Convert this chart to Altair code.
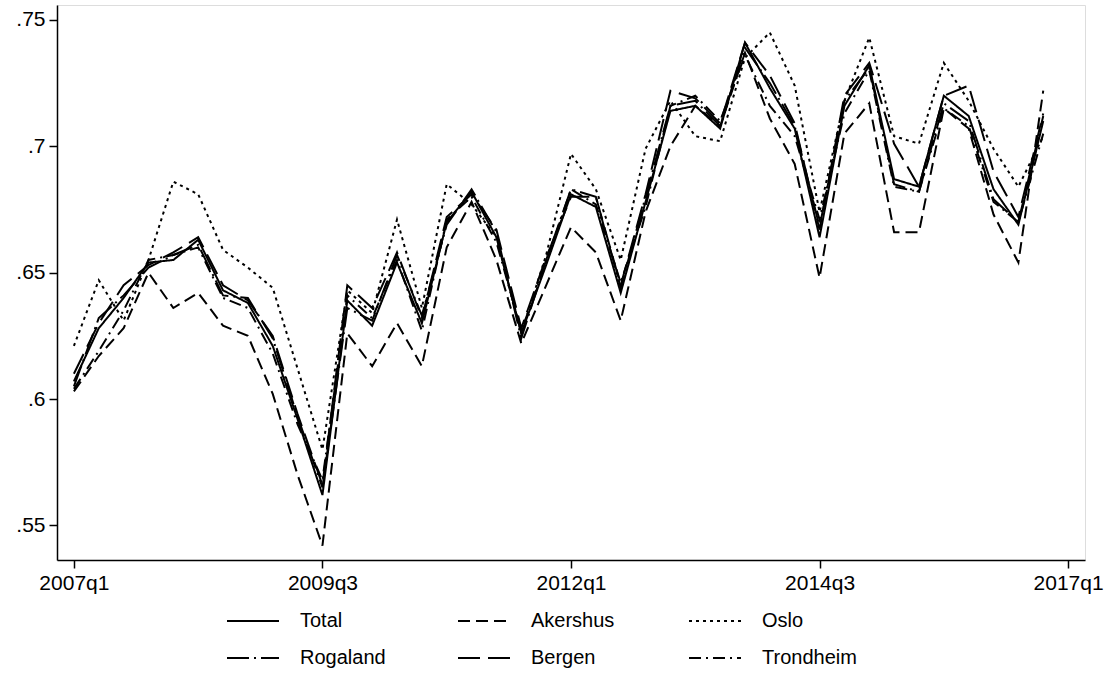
import altair as alt
import pandas as pd

# quarter index: 0 = 2007q1 ... 39 = 2016q4
quarters = list(range(40))

total = [0.607, 0.628, 0.640, 0.654, 0.655, 0.663, 0.643, 0.638, 0.621, 0.592,
         0.562, 0.639, 0.629, 0.654, 0.630, 0.670, 0.682, 0.664, 0.626, 0.653,
         0.681, 0.676, 0.642, 0.678, 0.714, 0.716, 0.707, 0.741, 0.723, 0.707,
         0.664, 0.716, 0.732, 0.687, 0.684, 0.720, 0.712, 0.683, 0.669, 0.710]
akershus = [0.603, 0.617, 0.628, 0.650, 0.636, 0.642, 0.629, 0.625, 0.602, 0.570,
            0.542, 0.626, 0.613, 0.630, 0.613, 0.660, 0.678, 0.655, 0.622, 0.645,
            0.668, 0.658, 0.631, 0.674, 0.700, 0.716, 0.708, 0.737, 0.711, 0.693,
            0.648, 0.705, 0.717, 0.666, 0.666, 0.715, 0.707, 0.673, 0.654, 0.722]
oslo = [0.621, 0.647, 0.631, 0.655, 0.686, 0.681, 0.659, 0.652, 0.644, 0.612,
        0.580, 0.643, 0.634, 0.671, 0.636, 0.685, 0.677, 0.664, 0.626, 0.657,
        0.697, 0.683, 0.655, 0.699, 0.718, 0.704, 0.702, 0.735, 0.745, 0.724,
        0.674, 0.718, 0.743, 0.704, 0.701, 0.733, 0.718, 0.699, 0.684, 0.704]
rogaland = [0.605, 0.632, 0.641, 0.652, 0.657, 0.661, 0.641, 0.640, 0.624, 0.593,
            0.565, 0.636, 0.631, 0.657, 0.633, 0.669, 0.683, 0.666, 0.624, 0.655,
            0.683, 0.680, 0.644, 0.680, 0.716, 0.718, 0.708, 0.739, 0.725, 0.708,
            0.668, 0.718, 0.731, 0.685, 0.682, 0.717, 0.710, 0.679, 0.670, 0.712]
bergen = [0.610, 0.630, 0.645, 0.653, 0.658, 0.664, 0.645, 0.639, 0.625, 0.594,
          0.566, 0.645, 0.636, 0.658, 0.632, 0.672, 0.681, 0.667, 0.628, 0.656,
          0.680, 0.680, 0.645, 0.681, 0.722, 0.719, 0.709, 0.741, 0.728, 0.709,
          0.667, 0.720, 0.733, 0.701, 0.684, 0.720, 0.724, 0.690, 0.672, 0.713]
trondheim = [0.604, 0.619, 0.635, 0.655, 0.657, 0.660, 0.640, 0.636, 0.618, 0.590,
             0.568, 0.641, 0.632, 0.655, 0.627, 0.671, 0.680, 0.662, 0.627, 0.654,
             0.683, 0.677, 0.646, 0.676, 0.716, 0.720, 0.710, 0.736, 0.716, 0.704,
             0.671, 0.713, 0.730, 0.684, 0.682, 0.715, 0.708, 0.678, 0.670, 0.705]

series_names = ["Total", "Akershus", "Oslo", "Rogaland", "Bergen", "Trondheim"]
series_values = [total, akershus, oslo, rogaland, bergen, trondheim]
dash_patterns = [[1, 0], [12, 6], [3, 4], [22, 5, 2, 5], [22, 8], [12, 5, 2, 5]]

x_tick_values = [0, 10, 20, 30, 40]
x_tick_labels = ["2007q1", "2009q3", "2012q1", "2014q3", "2017q1"]
y_tick_values = [0.55, 0.6, 0.65, 0.7, 0.75]

rows = []
for name, vals in zip(series_names, series_values):
    for q, v in zip(quarters, vals):
        rows.append({"q": q, "value": v, "series": name})
df = pd.DataFrame(rows)

x_label_expr = ""
for tv, tl in zip(x_tick_values, x_tick_labels):
    x_label_expr += f"datum.value == {tv} ? '{tl}' : "
x_label_expr += "''"

FONT = "Liberation Sans"

chart = alt.Chart(df).mark_line(strokeWidth=2, color="black", strokeCap="butt").encode(
    x=alt.X("q:Q",
            scale=alt.Scale(domain=[-0.68, 40.68], nice=False, zero=False),
            axis=alt.Axis(values=x_tick_values, labelExpr=x_label_expr, title=None,
                          grid=False, tickSize=8, tickWidth=1.5, domainWidth=1.5,
                          domainColor="black", tickColor="black", labelColor="black",
                          labelFont=FONT, labelFontSize=21, labelPadding=4,
                          labelFlush=False, labelOverlap=False)),
    y=alt.Y("value:Q",
            scale=alt.Scale(domain=[0.5363, 0.7559], nice=False, zero=False),
            axis=alt.Axis(values=y_tick_values,
                          labelExpr="substring(format(datum.value, '.2~f'), 1)",
                          title=None, grid=False, tickSize=8, tickWidth=1.5,
                          domainWidth=1.5, domainColor="black", tickColor="black",
                          labelColor="black", labelFont=FONT, labelFontSize=21,
                          labelPadding=4, labelFlush=False, labelOverlap=False)),
    strokeDash=alt.StrokeDash("series:N",
                              scale=alt.Scale(domain=series_names, range=dash_patterns),
                              legend=alt.Legend(title=None, orient="none",
                                                legendX=169, legendY=589,
                                                columns=3, direction="horizontal",
                                                gridAlign="all", columnPadding=59,
                                                rowPadding=-17, padding=0,
                                                symbolType="stroke", symbolSize=2704,
                                                symbolStrokeWidth=2,
                                                symbolStrokeColor="black",
                                                labelFont=FONT, labelFontSize=20,
                                                labelColor="black", labelOffset=20,
                                                labelLimit=0)),
    order=alt.Order("q:Q"),
).properties(
    width=1028, height=555,
    autosize=alt.AutoSizeParams(type="none"),
    padding={"left": 57, "top": 5, "right": 32, "bottom": 140},
).configure_view(
    stroke="black", strokeWidth=1.5
).configure(background="white")

chart.save("out.html", embed_options={"renderer": "svg", "actions": False})
